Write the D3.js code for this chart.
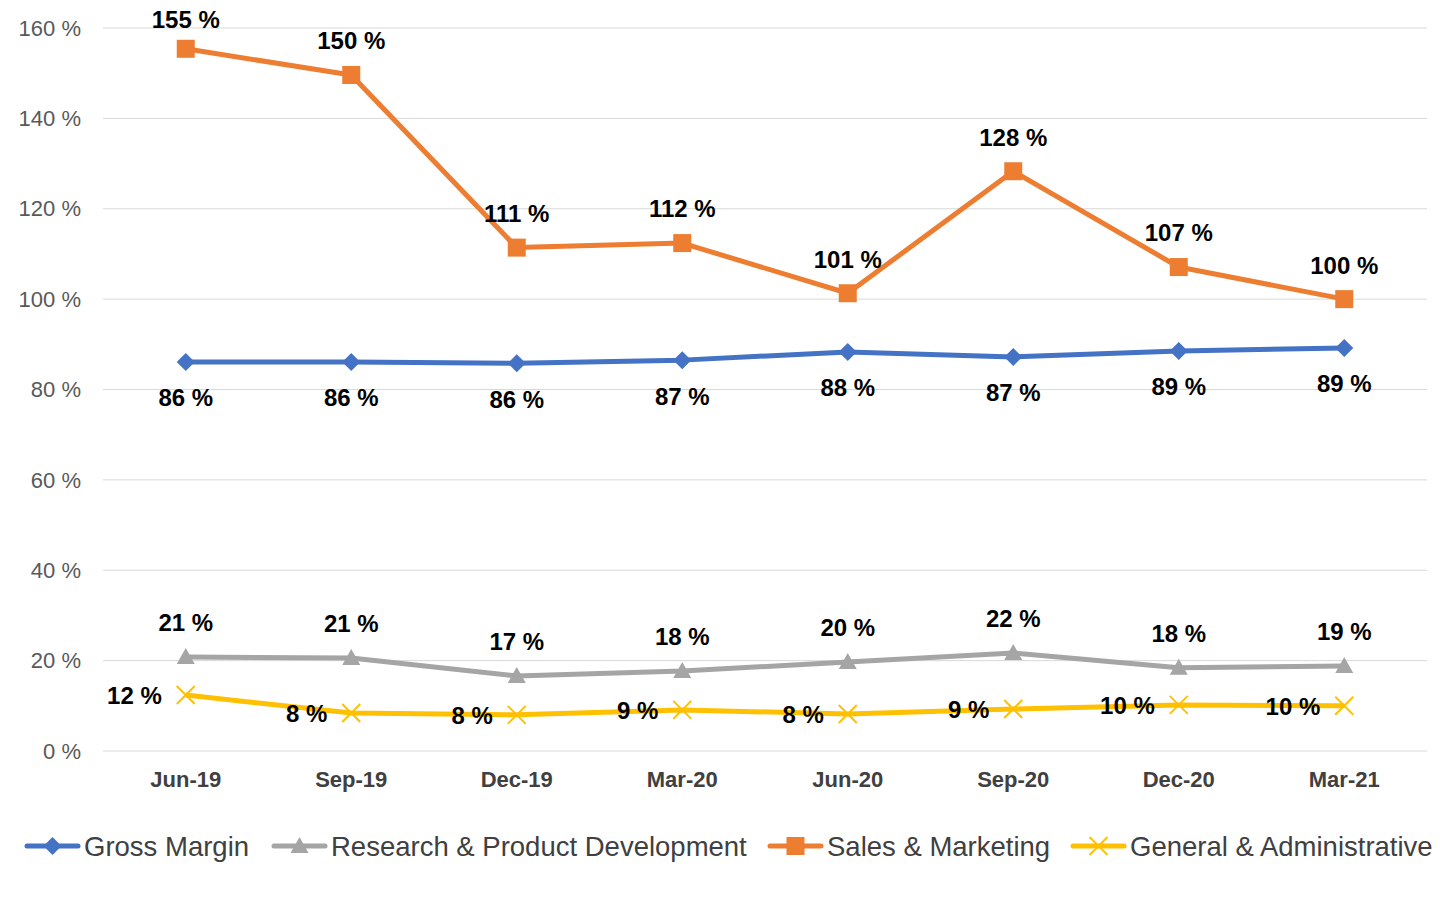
<!DOCTYPE html>
<html lang="en">
<head>
  <meta charset="UTF-8">
  <script src="https://d3js.org/d3.v7.min.js"></script>
  <style>
    body { margin: 0; background: white; font-family: 'Liberation Sans', Arial, sans-serif; }
    .grid line { stroke: #d9d9d9; stroke-width: 1px; }
    .lbl { font-weight: bold; font-size: 24px; fill: #000; }
  </style>
</head>
<body>
  <svg id="chart" width="1456" height="908"></svg>
  <script>
    const quarters = ['Jun-19', 'Sep-19', 'Dec-19', 'Mar-20', 'Jun-20', 'Sep-20', 'Dec-20', 'Mar-21'];
    const grossMargin = [86.1, 86.1, 85.8, 86.5, 88.3, 87.2, 88.5, 89.2];
    const researchDev = [20.8, 20.6, 16.6, 17.7, 19.7, 21.7, 18.4, 18.8];
    const salesMarketing = [155.4, 149.6, 111.4, 112.4, 101.3, 128.3, 107.1, 100.0];
    const generalAdmin = [12.4, 8.4, 8.0, 9.1, 8.2, 9.3, 10.2, 10.0];
    const yTicks = [0, 20, 40, 60, 80, 100, 120, 140, 160];

    const svg = d3.select("#chart");
    const plot = { left: 103, right: 1427, top: 28, bottom: 751 };

    const x = d3.scaleBand().domain(quarters).range([plot.left, plot.right]);
    const y = d3.scaleLinear().domain([0, 160]).range([plot.bottom, plot.top]);
    const cx = d => x(d) + x.bandwidth() / 2;

    // gridlines
    svg.append("g").attr("class", "grid")
      .selectAll("line").data(yTicks).join("line")
      .attr("x1", plot.left).attr("x2", plot.right)
      .attr("y1", d => y(d)).attr("y2", d => y(d));

    // y axis labels
    svg.append("g").selectAll("text").data(yTicks).join("text")
      .attr("x", 81).attr("y", d => y(d))
      .attr("dy", "0.35em")
      .attr("text-anchor", "end")
      .style("font-size", "22px").style("fill", "#595959")
      .text(d => d + " %");

    // x axis labels
    svg.append("g").selectAll("text").data(quarters).join("text")
      .attr("x", d => cx(d)).attr("y", 779)
      .attr("dy", "0.35em")
      .attr("text-anchor", "middle")
      .style("font-size", "22px").style("font-weight", "bold").style("fill", "#404040")
      .text(d => d);

    const series = [
      { name: 'Gross Margin', values: grossMargin, color: '#4472C4', marker: 'diamond', pos: 'below' },
      { name: 'Research & Product Development', values: researchDev, color: '#A5A5A5', marker: 'triangle', pos: 'above' },
      { name: 'Sales & Marketing', values: salesMarketing, color: '#ED7D31', marker: 'square', pos: 'above' },
      { name: 'General & Administrative', values: generalAdmin, color: '#FFC000', marker: 'x', pos: 'left' }
    ];

    function drawMarker(g, type, color) {
      if (type === 'diamond') {
        g.append("path").attr("d", "M0,-9L9,0L0,9L-9,0Z").attr("fill", color);
      } else if (type === 'triangle') {
        g.append("path").attr("d", "M0,-9L9,7L-9,7Z").attr("fill", color);
      } else if (type === 'square') {
        g.append("rect").attr("x", -9).attr("y", -9).attr("width", 18).attr("height", 18).attr("fill", color);
      } else {
        g.append("path").attr("d", "M-9,-9L9,9M-9,9L9,-9").attr("stroke", color).attr("stroke-width", 2).attr("fill", "none");
      }
    }

    const line = d3.line().x(d => cx(d.q)).y(d => y(d.v));

    series.forEach(s => {
      const pts = s.values.map((v, i) => ({ q: quarters[i], v: v }));
      svg.append("path").datum(pts)
        .attr("d", line)
        .attr("fill", "none")
        .attr("stroke", s.color)
        .attr("stroke-width", 5)
        .attr("stroke-linejoin", "round");

      pts.forEach(p => {
        const g = svg.append("g").attr("transform", "translate(" + cx(p.q) + "," + y(p.v) + ")");
        drawMarker(g, s.marker, s.color);
      });

      svg.append("g").selectAll("text").data(pts).join("text")
        .attr("class", "lbl")
        .attr("x", d => s.pos === 'left' ? cx(d.q) - 24 : cx(d.q))
        .attr("y", d => {
          if (s.pos === 'above') return Math.max(y(d.v) - 34, 20);
          if (s.pos === 'below') return y(d.v) + 36;
          return y(d.v) + 1;
        })
        .attr("dy", "0.35em")
        .attr("text-anchor", s.pos === 'left' ? "end" : "middle")
        .text(d => Math.round(d.v) + " %");
    });

    // legend
    const legendX = [27, 274, 770, 1073];
    const legend = svg.append("g");
    series.forEach((s, i) => {
      const g = legend.append("g").attr("transform", "translate(" + legendX[i] + ",846)");
      g.append("line").attr("x1", 0).attr("x2", 51).attr("y1", 0).attr("y2", 0)
        .attr("stroke", s.color).attr("stroke-width", 5).attr("stroke-linecap", "round");
      const m = g.append("g").attr("transform", "translate(25.5,0)");
      drawMarker(m, s.marker, s.color);
      g.append("text").attr("x", 57).attr("y", 0).attr("dy", "0.35em")
        .style("font-size", "27.5px").style("fill", "#404040")
        .text(s.name);
    });
  </script>
</body>
</html>
